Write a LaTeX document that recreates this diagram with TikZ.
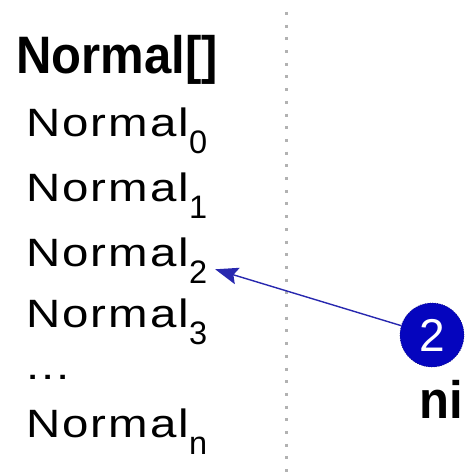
\documentclass[tikz,border=0pt]{standalone}
\usepackage{fontspec}
\setmainfont{Liberation Sans}
\newfontfamily\headfont[FakeStretch=0.93]{Liberation Sans}
\newfontfamily\listfont[FakeStretch=1.2, LetterSpace=5]{Liberation Sans}
\usepackage{tikz}
\usetikzlibrary{arrows.meta, positioning}
\definecolor{badgeblue}{RGB}{5,5,190}
\definecolor{badgeedge}{RGB}{20,20,120}
\definecolor{linkblue}{RGB}{40,40,175}
\newcommand{\idx}[1]{\raisebox{-9.6pt}{\rmfamily\fontsize{18.5}{18.5}\selectfont #1}}
\tikzstyle{title} = [inner sep=0pt, anchor=base west, font=\headfont\bfseries\fontsize{30}{30}\selectfont]
\tikzstyle{entry} = [inner sep=0pt, anchor=base west, font=\listfont\fontsize{22.5}{22.5}\selectfont]
\tikzstyle{badge} = [circle, fill=badgeblue, draw=badgeedge, densely dotted, minimum size=1.28cm, inner sep=0pt, text=white, font=\fontsize{26.2}{26.2}\selectfont]
\tikzstyle{separator} = [draw=gray!60, line width=0.06cm, dash pattern=on 0.06cm off 0.194cm]
\tikzstyle{arrow} = [draw=linkblue, line width=0.028cm, -{Stealth[length=0.46cm, width=0.34cm, inset=0.08cm]}, shorten >=0.16cm]

\begin{document}
\begin{tikzpicture}[x=0.02cm, y=-0.02cm]
    \useasboundingbox (0,0) rectangle (465,475);

    % Array
    \node (head) [title] at (16,74) {Normal[]};
    \node (n0) [entry] at (26,137) {Normal\idx{0}};
    \node (n1) [entry, below=1.3cm of n0.base west, anchor=base west] {Normal\idx{1}};
    \node (n2) [entry, below=1.3cm of n1.base west, anchor=base west] {Normal\idx{2}};
    \node (n3) [entry, below=1.22cm of n2.base west, anchor=base west] {Normal\idx{3}};
    \node (dots) [entry, below=1.04cm of n3.base west, anchor=base west] {...};
    \node (nn) [entry, below=1.16cm of dots.base west, anchor=base west] {Normal\idx{n}};

    % Separator
    \draw [separator] (286,12) -- (286,475);

    % Index
    \node (badge) [badge] at (432,335) {2};
    \node (ni) [title] at (419,418) {ni};

    % Arrows
    \draw [arrow] (badge) -- (n2.base east);
\end{tikzpicture}
\end{document}
